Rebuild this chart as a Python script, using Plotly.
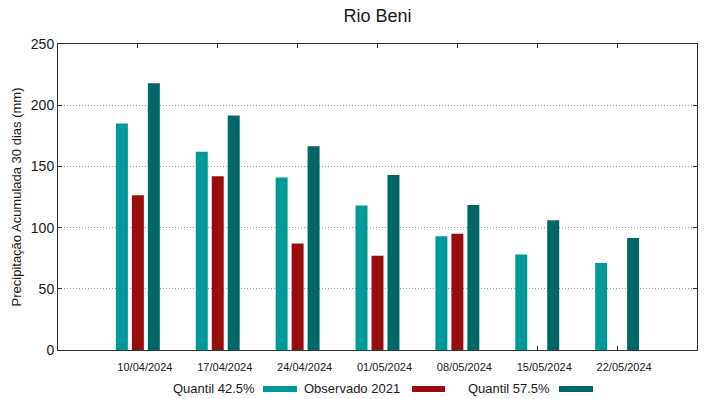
import plotly.graph_objects as go

dates = ["10/04/2024", "17/04/2024", "24/04/2024", "01/05/2024",
         "08/05/2024", "15/05/2024", "22/05/2024"]
q425 = [185, 162, 141, 118, 93, 78, 71]
obs2021 = [126.5, 142, 87, 77, 95, None, None]
q575 = [218, 191.5, 166.5, 143, 118.5, 106, 91.5]

series_names = ["Quantil 42.5%", "Observado 2021", "Quantil 57.5%"]
colors = ["#009999", "#990d0d", "#006666"]

idx = list(range(len(dates)))
W, H = 719, 399
L, R, T, B = 58, 697, 44, 350

fig = go.Figure()
offsets = [-0.275, -0.075, 0.125]
for name, vals, col, off in zip(series_names, [q425, obs2021, q575], colors, offsets):
    fig.add_trace(go.Bar(
        x=idx, y=vals, name=name, marker_color=col, marker_line_width=0,
        width=0.15, offset=off, showlegend=False,
    ))

def px2paper_x(px):
    return (px - L) / (R - L)

def px2paper_y(py):
    return (B - py) / (B - T)

# manual gnuplot-style legend: text then swatch
legend_text_right = [257, 402, 552]
legend_swatch = [(263, 297), (412, 445), (559, 593)]
ly = 388
annotations = []
shapes = []
for name, col, tr, (s0, s1) in zip(series_names, colors, legend_text_right, legend_swatch):
    annotations.append(dict(
        text=name, xref="paper", yref="paper", x=px2paper_x(tr), y=px2paper_y(ly),
        xanchor="right", yanchor="middle", showarrow=False,
        font=dict(family="Liberation Sans, Arial", size=13, color="#1a1a1a"),
    ))
    shapes.append(dict(
        type="rect", xref="paper", yref="paper",
        x0=px2paper_x(s0), x1=px2paper_x(s1),
        y0=px2paper_y(ly + 4), y1=px2paper_y(ly - 2),
        fillcolor=col, line=dict(width=0),
    ))

fig.update_layout(
    width=W, height=H,
    margin=dict(l=L, r=W - R, t=T, b=H - B, pad=0, autoexpand=False),
    plot_bgcolor="white", paper_bgcolor="white",
    barmode="overlay",
    font=dict(family="Liberation Sans, Arial", color="#1a1a1a"),
    title=dict(text="Rio Beni", x=0.5 * (L + R) / W, xanchor="center",
               y=1 - 16 / H, yanchor="middle",
               font=dict(size=18, color="#1a1a1a")),
    annotations=annotations,
    shapes=shapes,
    xaxis=dict(
        range=[-1, 7], tickvals=idx, ticktext=dates,
        showgrid=False, zeroline=False, automargin=False,
        showline=True, linecolor="#333333", linewidth=1, mirror="ticks",
        ticks="inside", ticklen=4, tickcolor="#333333",
        tickfont=dict(size=11, color="#1a1a1a"),
        ticklabelshift=7, ticklabelstandoff=7,
    ),
    yaxis=dict(
        range=[0, 250], tickvals=[0, 50, 100, 150, 200, 250],
        showgrid=True, gridcolor="#9a9a9a", griddash="1px,2px", gridwidth=1,
        zeroline=False, automargin=False,
        showline=True, linecolor="#333333", linewidth=1, mirror="ticks",
        ticks="inside", ticklen=4, tickcolor="#333333",
        tickfont=dict(size=14, color="#1a1a1a"),
        title=dict(text="Precipitação Acumulada 30 dias (mm)",
                   font=dict(size=13, color="#1a1a1a"), standoff=6),
    ),
)

fig.write_html("out.html", config={"displayModeBar": False},
               post_script="document.body.style.margin='0';")
